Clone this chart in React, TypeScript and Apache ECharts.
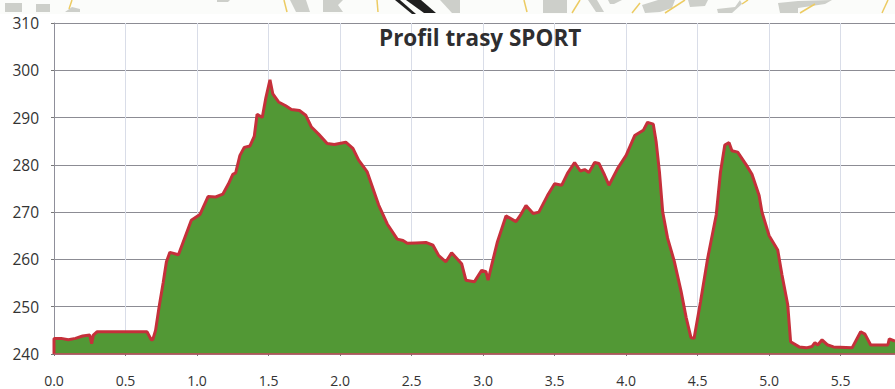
import React, { useEffect, useRef } from "react";
import * as echarts from "echarts";

const TITLE = "Profil trasy SPORT";
const distance = [0,0,0.05,0.1,0.15,0.2,0.25,0.263,0.275,0.3,0.65,0.68,0.69,0.71,0.735,0.763,0.786,0.81,0.87,0.96,1.02,1.077,1.13,1.18,1.22,1.25,1.27,1.30,1.33,1.37,1.40,1.42,1.456,1.48,1.51,1.53,1.57,1.62,1.66,1.716,1.76,1.80,1.85,1.91,1.96,2.04,2.09,2.13,2.19,2.23,2.27,2.33,2.40,2.44,2.47,2.53,2.60,2.65,2.69,2.74,2.78,2.85,2.88,2.94,2.99,3.02,3.035,3.06,3.10,3.16,3.23,3.26,3.30,3.35,3.39,3.45,3.50,3.55,3.59,3.64,3.68,3.71,3.74,3.78,3.81,3.85,3.88,3.94,4.0,4.06,4.12,4.15,4.19,4.21,4.233,4.256,4.29,4.337,4.384,4.42,4.453,4.475,4.52,4.57,4.63,4.66,4.69,4.72,4.74,4.78,4.84,4.88,4.93,4.95,5.0,5.06,5.09,5.13,5.15,5.21,5.26,5.30,5.32,5.34,5.37,5.41,5.45,5.58,5.64,5.67,5.71,5.83,5.84,5.88];
const elevation = [240,243.3,243.3,243,243.3,243.8,244,242.2,244,244.7,244.7,243,243,245,250,255,259.5,261.5,261,268.3,269.5,273.3,273.2,273.8,276,278,278.3,282,283.7,284,286,290.7,290,294,298,295,293.3,292.5,291.7,291.5,290.5,288,286.5,284.5,284.3,284.8,283.5,281,278.5,275,271.5,267.5,264.3,264,263.4,263.5,263.6,263,260.8,259.5,261.4,259.1,255.6,255.3,257.7,257.4,255.6,258.8,263.7,269.2,268,269.3,271.4,269.7,270,273.5,276,275.7,278.2,280.5,278.7,279,278.4,280.5,280.3,277.8,275.7,279.2,282,286.2,287.3,289,288.6,284.9,278.5,270,264.5,259.6,253.3,247.7,243.5,243.3,251,260.2,269.4,278.5,284.2,284.7,283,282.7,280,278,273.5,270,265,262,256.7,250.4,242.6,241.5,241.3,241.6,242.4,241.9,243,241.9,241.5,241.3,244.7,244.2,241.9,241.9,243.2,242.7];
const baseline = [[0,240],[5.88,240]];
const yMin = 240, yMax = 310, yStep = 10;
const xMin = 0, xMax = 5.88, xStep = 0.5;
const mapBlocks = [
  [[5,3],[22,3],[22,12],[5,12]],
  [[36,4],[50,4],[50,12],[36,12]],
  [[65,12],[72,7],[80,9],[80,12]],
  [[217,0],[230,0],[228,2],[217,2]],
  [[290,0],[306,0],[310,12],[296,12]],
  [[323,0],[343,0],[338,5],[343,12],[323,12]],
  [[440,0],[460,0],[460,13],[452,13]],
  [[543,0],[567,0],[567,13],[543,13]],
  [[588,0],[597,0],[604,12],[596,12]],
  [[608,0],[622,0],[614,4],[610,4]],
  [[642,5],[658,0],[675,0],[672,8],[660,12],[645,13]],
  [[688,0],[708,0],[705,6],[690,7]],
  [[717,9],[735,7],[740,0],[742,4],[732,13],[718,13]],
  [[778,3],[798,1],[798,13],[780,13]],
  [[798,1],[832,0],[825,4],[798,8]],
];
const mapRoads = [
  [72,0,69,9],[284,0,287,12],[377,0,378,12],[524,0,527,12],
  [580,0,572,13],[640,3,632,13],[685,0,665,13],[748,0,742,4],[815,4,800,13],[888,0,882,13],
];
const mapStripes = [
  [[395,0],[400,0],[416,14],[412,14]],
  [[406,0],[421,0],[436,13],[424,13]],
];

export default function App() {
  const ref = useRef<HTMLDivElement>(null);
  useEffect(() => {
    const chart = echarts.init(ref.current!, undefined, { renderer: "svg" });
    const font = "'Open Sans', 'Noto Sans', sans-serif";
    chart.setOption({
      animation: false,
      backgroundColor: "#ffffff",
      title: {
        text: TITLE, left: 374, top: 21,
        textStyle: { fontFamily: font, fontSize: 22.5, fontWeight: 700, color: "#2e2e30" },
      },
      grid: { left: 54, right: 0, top: 23, bottom: 35 },
      xAxis: {
        type: "value", min: xMin, max: xMax, interval: xStep,
        axisLine: { show: false },
        axisTick: { show: true, length: 2, lineStyle: { color: "#777" } },
        axisLabel: { color: "#333", fontSize: 14, fontFamily: font, margin: 19,
          formatter: (v: number) => v.toFixed(1), showMaxLabel: false },
        splitLine: { show: true, lineStyle: { color: "#d9dde8", width: 1 } },
      },
      yAxis: {
        type: "value", min: yMin, max: yMax, interval: yStep,
        axisLine: { show: true, lineStyle: { color: "#8f8f9a", width: 1 } },
        axisTick: { show: true, length: 3, lineStyle: { color: "#777" } },
        axisLabel: { color: "#333", fontSize: 15.5, fontFamily: font, margin: 15 },
        splitLine: { show: true, lineStyle: { color: "#8c8c94", width: 1 } },
      },
      series: [
        {
          type: "line", showSymbol: false, silent: true,
          data: distance.map((d, i) => [d, elevation[i]]),
          lineStyle: { color: "#c5303a", width: 3 },
          areaStyle: { color: "#529835", opacity: 1 },
          z: 3,
        },
        {
          type: "line", showSymbol: false, silent: true, data: baseline,
          lineStyle: { color: "#c8485a", width: 1.5 }, z: 4,
        },
      ],
      graphic: [
        { type: "rect", silent: true, shape: { x: 0, y: 0, width: 895, height: 14 }, style: { fill: "#fbfcfa" } },
        ...mapBlocks.map((points) => ({
          type: "polygon", silent: true, shape: { points },
          style: { fill: "#cdcfca" },
        })),
        ...mapRoads.map(([x1, y1, x2, y2]) => ({
          type: "line", silent: true, shape: { x1, y1, x2, y2 },
          style: { stroke: "#eccb62", lineWidth: 1.5 },
        })),
        ...mapStripes.map((points) => ({
          type: "polygon", silent: true, shape: { points },
          style: { fill: "#1f1f1f" },
        })),
      ],
    });
    return () => chart.dispose();
  }, []);
  return <div ref={ref} style={{ position: "absolute", left: 0, top: 0, width: 895, height: 389 }} />;
}
